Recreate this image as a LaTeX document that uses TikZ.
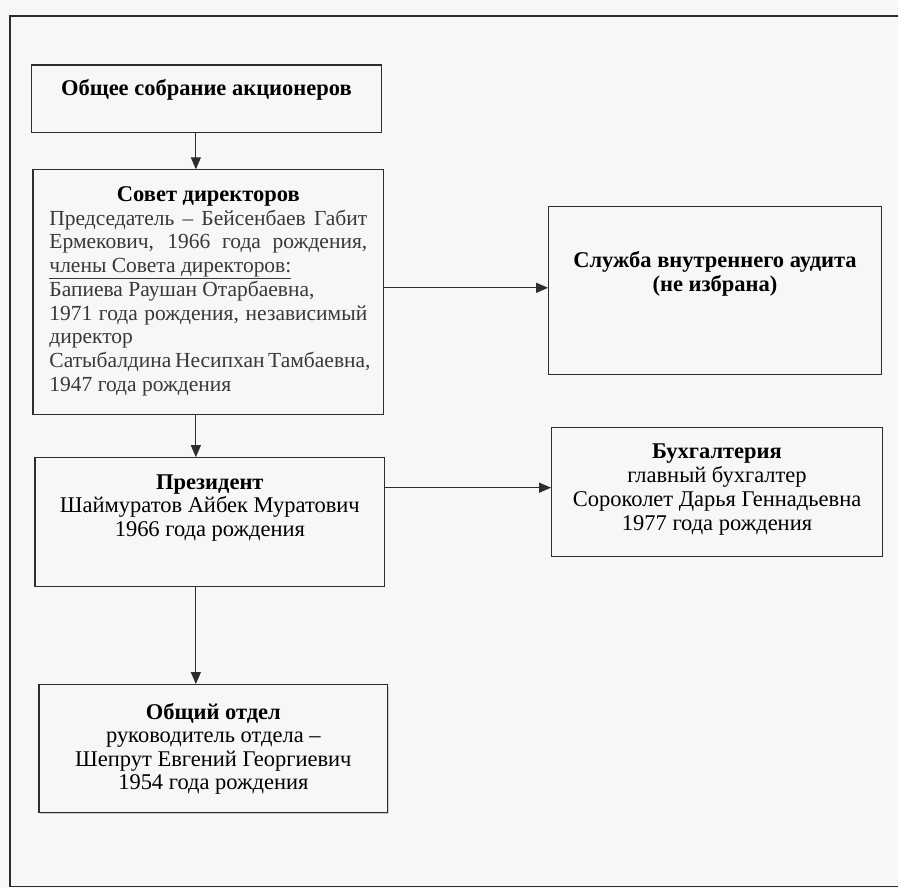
\documentclass[tikz,border=0pt]{standalone}
\usepackage{fontspec}
\setmainfont{Liberation Serif}
\usepackage{tikz}
\usetikzlibrary{positioning}
\usetikzlibrary{arrows.meta}
\usetikzlibrary{shadows}
\usepackage{xcolor}

\definecolor{paper}{RGB}{246,247,249}
\definecolor{ink}{RGB}{45,45,45}
\newcommand{\jline}[1]{\makebox[318pt][s]{#1}}
\newcommand{\lline}[1]{\makebox[318pt][l]{#1}}

\begin{document}
\begin{tikzpicture}[x=1pt,y=-1pt,
    orgbox/.style={draw=ink,line width=1.1pt,rectangle,inner sep=0pt},
    orgtext/.style={inner sep=0pt,align=center,font=\fontsize{22.5}{23.5}\selectfont},
    bodytext/.style={inner sep=0pt,align=center,font=\fontsize{21.5}{23.75}\selectfont},
    orgarrow/.style={draw=ink,line width=1.1pt,-{Triangle[length=12pt,width=10pt]}}]
	  \fill[paper] (0,0) rectangle (899,889);
	  \draw[ink,line width=1.2pt] (899,16) -- (10,16) -- (10,887) -- (899,887);
	  % boxes
	  \node[orgbox,minimum width=350pt,minimum height=68pt] (obs) at (206.5,99) {};
	  \node[orgbox,minimum width=351pt,minimum height=245pt] (sovet) at (208.5,292.5) {};
	  \node[orgbox,minimum width=350pt,minimum height=129pt] (prez) at (210,522.5) {};
	  \node[orgbox,fill=paper,drop shadow={shadow xshift=1pt,shadow yshift=-2pt,opacity=.35},
	        minimum width=349pt,minimum height=128pt] (otdel) at (213.5,749) {};
	  \node[orgbox,minimum width=333pt,minimum height=168pt] (audit) at (715.5,291) {};
	  \node[orgbox,minimum width=331pt,minimum height=129pt] (buh) at (717.5,492.5) {};
	  % texts
	  \node[orgtext,below=15pt of obs.north] (obstext) {\bfseries Общее собрание акционеров};
	  \node[bodytext,below=17pt of sovet.north] (sovettext) {{\fontsize{22.5}{23.75}\selectfont\bfseries Совет директоров}\\
	    \color{black!78}\jline{Председатель – Бейсенбаев Габит}\\
	    \color{black!78}\jline{Ермекович, 1966 года рождения,}\\
	    \color{black!78}\lline{\underline{члены Совета директоров:}}\\
	    \color{black!78}\lline{Бапиева Раушан Отарбаевна,}\\
	    \color{black!78}\jline{1971 года рождения, независимый}\\
	    \color{black!78}\lline{директор}\\
	    \color{black!78}\jline{Сатыбалдина Несипхан Тамбаевна,}\\
	    \color{black!78}\lline{1947 года рождения}};
	  \node[orgtext,below=17pt of prez.north] (preztext) {{\bfseries Президент}\\
	    Шаймуратов Айбек Муратович\\1966 года рождения};
	  \node[orgtext,below=19pt of otdel.north] (otdeltext) {{\bfseries Общий отдел}\\
	    руководитель отдела –\\Шепрут Евгений Георгиевич\\1954 года рождения};
	  \node[orgtext,below=45pt of audit.north] (audittext) {\bfseries Служба внутреннего аудита\\
	    \bfseries (не избрана)};
	  \node[orgtext,below=16pt of buh.north,font=\fontsize{22.5}{24.3}\selectfont] (buhtext) {{\bfseries Бухгалтерия}\\
	    главный бухгалтер\\Сороколет Дарья Геннадьевна\\1977 года рождения};
	  % connectors
	  \coordinate (spine) at (196,0);
	  \coordinate (lvlaudit) at (0,288);
	  \coordinate (lvlbuh) at (0,488);
	  \draw[orgarrow] (obs.south -| spine) -- (sovet.north -| spine);
	  \draw[orgarrow] (sovet.south -| spine) -- (prez.north -| spine);
	  \draw[orgarrow] (prez.south -| spine) -- (otdel.north -| spine);
	  \draw[orgarrow] (sovet.east |- lvlaudit) -- (audit.west |- lvlaudit);
	  \draw[orgarrow] (prez.east |- lvlbuh) -- (buh.west |- lvlbuh);
	\end{tikzpicture}
\end{document}
